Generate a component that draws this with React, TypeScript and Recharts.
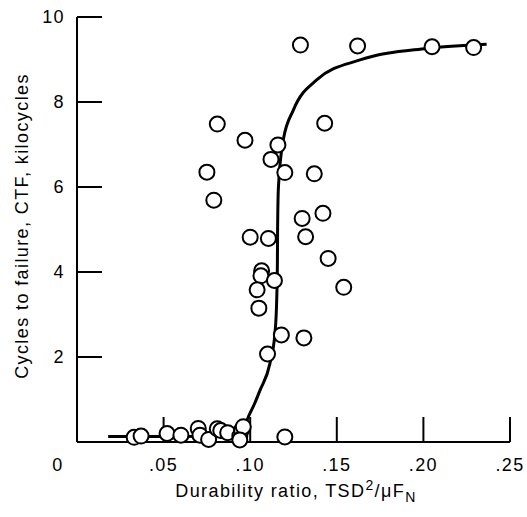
import { ComposedChart, Line, Scatter, XAxis, YAxis, Label } from 'recharts';

const ratio = [
  0.129, 0.162, 0.205, 0.229, 0.081, 0.143, 0.097, 0.116, 0.112, 0.075, 0.120, 0.137,
  0.079, 0.142, 0.130, 0.100, 0.1105, 0.132, 0.145, 0.1066, 0.1062, 0.114, 0.104, 0.154,
  0.105, 0.118, 0.131, 0.110, 0.120,
  0.033, 0.037, 0.052, 0.060, 0.070, 0.071, 0.076, 0.081, 0.083, 0.087, 0.094, 0.095, 0.096, 0.094,
];
const cycles = [
  9.34, 9.32, 9.30, 9.28, 7.48, 7.50, 7.10, 6.99, 6.65, 6.35, 6.34, 6.31,
  5.69, 5.38, 5.26, 4.82, 4.79, 4.83, 4.32, 4.03, 3.91, 3.80, 3.58, 3.64,
  3.15, 2.52, 2.45, 2.07, 0.12,
  0.11, 0.14, 0.20, 0.16, 0.32, 0.16, 0.06, 0.31, 0.27, 0.22, 0.14, 0.28, 0.36, 0.05,
];

// fitted curve
const fitX = [0.018, 0.06, 0.09, 0.096, 0.099, 0.1025, 0.1057, 0.1114, 0.1143, 0.1153, 0.1157, 0.1158, 0.1163, 0.1191, 0.1249, 0.1384, 0.1634, 0.2019, 0.2365];
const fitY = [0.13, 0.13, 0.15, 0.3, 0.6, 0.9, 1.22, 1.85, 2.56, 3.34, 4.2, 4.91, 6.0, 7.11, 7.81, 8.52, 8.99, 9.26, 9.36];

const xTicks = [0, 0.05, 0.1, 0.15, 0.2, 0.25];
const yTicks = [2, 4, 6, 8, 10];

const points = ratio.map((x, i) => ({ x, y: cycles[i] }));
const curve = fitX.map((x, i) => ({ x, y: fitY[i] }));

const font = "'Liberation Sans', Arial, sans-serif";
const spacing = 1.4;

const fmtX = (v: number) => (v === 0 ? '0' : v.toFixed(2).replace(/^0/, ''));

function XTick(props: any) {
  const { x, y, payload } = props;
  const shift = payload.value === 0 ? -19 : 0;
  return (
    <text
      x={x + shift}
      y={y}
      dy={13}
      textAnchor="middle"
      fontSize={18}
      letterSpacing={spacing}
      fontFamily={font}
      fill="#000"
    >
      {fmtX(payload.value)}
    </text>
  );
}

function Ring(props: any) {
  const { cx, cy } = props;
  return <circle cx={cx} cy={cy} r={7.5} fill="#fff" stroke="#000" strokeWidth={2} />;
}

export default function App() {
  return (
    <div style={{ position: 'absolute', left: 0, top: 0, background: '#fff' }}>
      <ComposedChart width={527} height={517} margin={{ top: 17, right: 17, left: 17, bottom: 15 }}>
        <XAxis
          type="number"
          dataKey="x"
          domain={[0, 0.25]}
          ticks={xTicks}
          tick={<XTick />}
          tickSize={-25}
          tickMargin={41}
          height={60}
          stroke="#000"
          axisLine={{ stroke: '#000', strokeWidth: 2 }}
          tickLine={{ stroke: '#000', strokeWidth: 2 }}
        >
          <Label
            content={() => (
              <text
                x={296}
                y={497}
                textAnchor="middle"
                fontSize={18}
                letterSpacing={spacing}
                fontFamily={font}
                fill="#000"
              >
                Durability ratio, TSD<tspan dy={-7} fontSize={14}>2</tspan>
                <tspan dy={7}>/μF</tspan>
                <tspan dy={5} fontSize={14}>N</tspan>
              </text>
            )}
          />
        </XAxis>
        <YAxis
          type="number"
          domain={[0, 10]}
          ticks={yTicks}
          width={60}
          tickSize={-25}
          tickMargin={37}
          tick={{ fontSize: 18, fontFamily: font, fill: '#000', letterSpacing: spacing }}
          axisLine={{ stroke: '#000', strokeWidth: 2 }}
          tickLine={{ stroke: '#000', strokeWidth: 2 }}
        >
          <Label
            content={() => (
              <text
                x={28}
                y={226}
                transform="rotate(-90, 28, 226)"
                textAnchor="middle"
                fontSize={18}
                letterSpacing={spacing}
                fontFamily={font}
                fill="#000"
              >
                Cycles to failure, CTF, kilocycles
              </text>
            )}
          />
        </YAxis>
        <Line
          data={curve}
          dataKey="y"
          type="monotoneX"
          stroke="#000"
          strokeWidth={3}
          dot={false}
          isAnimationActive={false}
        />
        <Scatter data={points} dataKey="y" shape={<Ring />} isAnimationActive={false} />
      </ComposedChart>
    </div>
  );
}
